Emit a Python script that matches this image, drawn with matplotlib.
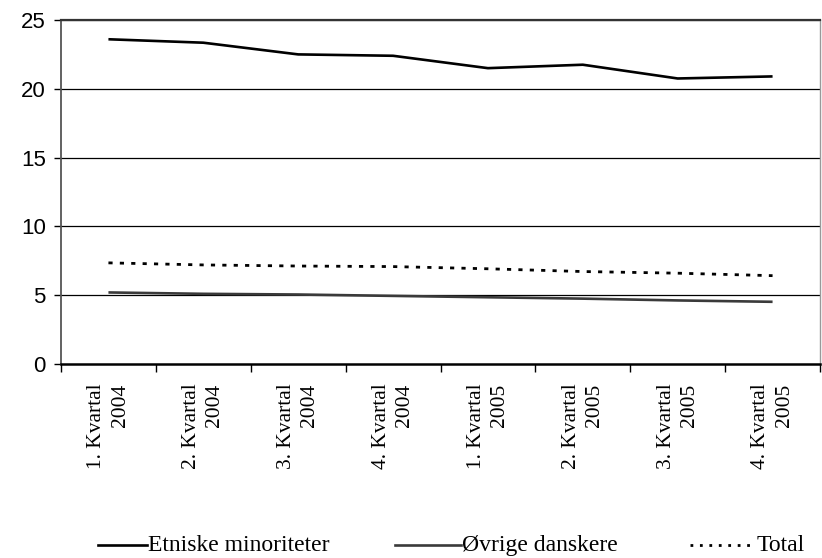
import matplotlib
matplotlib.use("Agg")
import matplotlib.pyplot as plt
from matplotlib.lines import Line2D
import numpy as np

categories = ["1. Kvartal\n2004", "2. Kvartal\n2004", "3. Kvartal\n2004", "4. Kvartal\n2004",
              "1. Kvartal\n2005", "2. Kvartal\n2005", "3. Kvartal\n2005", "4. Kvartal\n2005"]
etniske = [23.6, 23.35, 22.5, 22.4, 21.5, 21.75, 20.75, 20.9]
ovrige = [5.2, 5.1, 5.05, 4.95, 4.85, 4.75, 4.62, 4.52]
total = [7.35, 7.2, 7.12, 7.08, 6.92, 6.72, 6.6, 6.42]
yticks = [0, 5, 10, 15, 20, 25]
series_labels = ["Etniske minoriteter", "Øvrige danskere", "Total"]

W, H = 822, 558
fig = plt.figure(figsize=(W/100, H/100), dpi=100)
ax = fig.add_axes([61/W, 1-364/H, (820-61)/W, 344/H])

x = np.arange(len(categories))
ax.plot(x, etniske, color="black", lw=1.9, solid_capstyle="butt")
ax.plot(x, ovrige, color="#3a3a3a", lw=1.9, solid_capstyle="butt")
ax.plot(x, total, color="black", lw=2.0, dashes=(1.5, 2.6))

ax.set_xlim(-0.5, len(categories) - 0.5)
ax.set_ylim(0, 25)
ax.set_yticks(yticks)
ax.set_yticklabels([str(v) for v in yticks], fontfamily="Liberation Sans", fontsize=16)
for v in yticks[1:]:
    ax.axhline(v, color="black", lw=0.9 if v < 25 else 1.6, zorder=0.5)

ax.set_xticks(x)
ax.set_xticklabels(categories, rotation=90, fontfamily="Liberation Serif", fontsize=15.5,
                   va="top", ha="center", multialignment="right", linespacing=1.3)
ax.set_xticks(np.arange(-0.5, len(categories) + 0.5, 1), minor=True)
ax.tick_params(axis="x", which="major", length=0, pad=14)
ax.tick_params(axis="x", which="minor", length=6, width=1.0, direction="out")
ax.tick_params(axis="y", length=5, width=1.0, direction="out", pad=6)

ax.spines["bottom"].set_linewidth(1.8)
ax.spines["bottom"].set_color("black")
ax.spines["left"].set_linewidth(1.3)
ax.spines["left"].set_color("#555555")
ax.spines["top"].set_linewidth(1.6)
ax.spines["top"].set_color("#333333")
ax.spines["right"].set_linewidth(1.0)
ax.spines["right"].set_color("#999999")

# legend entries placed manually in figure pixel coordinates
legend_styles = [dict(color="black", lw=1.9),
                 dict(color="#3a3a3a", lw=1.9),
                 dict(color="black", lw=2.0, dashes=(1.0, 2.4))]
handle_x = [(98, 147), (395, 461), (690, 753)]
text_x = [148, 462, 757]
yl = 545
for (x0, x1), tx, lab, st in zip(handle_x, text_x, series_labels, legend_styles):
    fig.add_artist(Line2D([x0/W, x1/W], [1-yl/H, 1-yl/H], transform=fig.transFigure, **st))
    fig.text(tx/W, 1-551/H, lab, fontfamily="Liberation Serif", fontsize=17,
             ha="left", va="baseline")

fig.savefig("out.png", dpi=100)
